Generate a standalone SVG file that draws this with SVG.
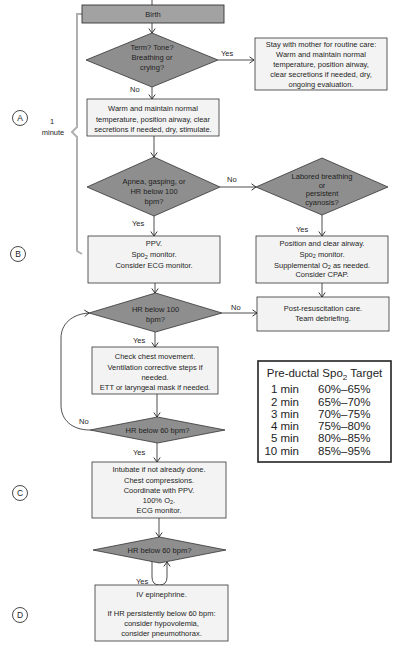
<svg xmlns="http://www.w3.org/2000/svg" width="414" height="665" viewBox="0 0 414 665">
<defs>
<marker id="arr" markerUnits="userSpaceOnUse" markerWidth="8" markerHeight="8" refX="6" refY="4" orient="auto">
<path d="M1.5,0.8 L6,4 L1.5,7.2" fill="none" stroke="#222" stroke-width="0.9"/>
</marker>
</defs>
<style>
text{font-family:"Liberation Sans",Arial,sans-serif;fill:#1e1e1e}
.t{font-size:7.5px;text-anchor:middle}
.l{font-size:7.5px}
.box{fill:#f3f3f3;stroke:#333;stroke-width:0.8}
.dia{fill:#8e8e8e;stroke:#333;stroke-width:0.8}
.birth{fill:#a2a2a2;stroke:#333;stroke-width:0.9}
.c{stroke:#222;stroke-width:0.8;fill:none}
.ca{stroke:#222;stroke-width:0.8;fill:none;marker-end:url(#arr)}
.br{stroke:#b0b0b0;stroke-width:2;fill:none}
.circ{fill:none;stroke:#333;stroke-width:0.9}
.big{font-size:11.5px}
</style>
<rect width="414" height="665" fill="#ffffff"/>
<g opacity="0.995">

<g id="bracket">
<path class="br" d="M82,14 L77,14 L77,127 L72,132 L77,137 L77,251 L82,254"/>
<text class="t" x="52" y="124">1</text>
<text class="t" x="53" y="135">minute</text>
</g>

<g id="labels">
<circle class="circ" cx="20" cy="118" r="7.5"/><text class="t" x="20" y="121" style="font-size:8.5px">A</text>
<circle class="circ" cx="18" cy="254" r="7.5"/><text class="t" x="18" y="257" style="font-size:8.5px">B</text>
<circle class="circ" cx="20" cy="493" r="7.5"/><text class="t" x="20" y="496" style="font-size:8.5px">C</text>
<circle class="circ" cx="20" cy="615" r="7.5"/><text class="t" x="20" y="618" style="font-size:8.5px">D</text>
</g>

<g id="connectors">
<line class="c" x1="152" y1="0" x2="152" y2="5"/>
<line class="ca" x1="152" y1="23" x2="152" y2="33"/>
<line class="ca" x1="218" y1="60" x2="254" y2="60"/>
<line class="ca" x1="152" y1="87" x2="152" y2="99"/>
<line class="ca" x1="154" y1="136" x2="154" y2="157"/>
<line class="ca" x1="220" y1="187" x2="256" y2="187"/>
<line class="ca" x1="154" y1="216" x2="154" y2="236"/>
<line class="ca" x1="322" y1="215" x2="322" y2="236"/>
<line class="ca" x1="155" y1="283" x2="155" y2="293"/>
<line class="ca" x1="322" y1="283" x2="322" y2="297"/>
<line class="ca" x1="222" y1="313" x2="257" y2="313"/>
<line class="ca" x1="155" y1="332" x2="155" y2="347"/>
<line class="ca" x1="157" y1="394" x2="157" y2="417"/>
<path class="ca" d="M90,430 C72,430 61,420 61,405 L61,338 C61,324 72,314 89,313"/>
<line class="ca" x1="157" y1="443" x2="157" y2="462"/>
<line class="ca" x1="159" y1="518" x2="159" y2="537"/>
<path class="ca" d="M152,561 L152,577 Q152,585 159.5,585 Q167,585 167,577 L167,562"/>
<text class="l" x="221" y="56">Yes</text>
<text class="l" x="130" y="92">No</text>
<text class="l" x="227" y="182">No</text>
<text class="l" x="132" y="226">Yes</text>
<text class="l" x="296" y="232">Yes</text>
<text class="l" x="231" y="310">No</text>
<text class="l" x="133" y="343">Yes</text>
<text class="l" x="79" y="424">No</text>
<text class="l" x="133" y="455">Yes</text>
<text class="l" x="136" y="584">Yes</text>
</g>

<g id="birth">
<rect class="birth" x="82" y="5" width="142" height="18"/>
<text class="t" x="153" y="16.5">Birth</text>
</g>

<g id="d1">
<polygon class="dia" points="152,33 218,60 152,87 86,60"/>
<text class="t" x="152" y="50">Term? Tone?</text>
<text class="t" x="152" y="60">Breathing or</text>
<text class="t" x="152" y="70">crying?</text>
</g>

<g id="routine">
<rect class="box" x="255" y="38" width="132" height="52"/>
<text class="t" x="321" y="47">Stay with mother for routine care:</text>
<text class="t" x="321" y="57">Warm and maintain normal</text>
<text class="t" x="321" y="67">temperature, position airway,</text>
<text class="t" x="321" y="77">clear secretions if needed, dry,</text>
<text class="t" x="321" y="87">ongoing evaluation.</text>
</g>

<g id="warm">
<rect class="box" x="87" y="99" width="132" height="37"/>
<text class="t" x="153" y="111">Warm and maintain normal</text>
<text class="t" x="153" y="121.5">temperature, position airway, clear</text>
<text class="t" x="153" y="132">secretions if needed, dry, stimulate.</text>
</g>

<g id="d2">
<polygon class="dia" points="154,157 220,187 154,216 87,187"/>
<text class="t" x="154" y="184">Apnea, gasping, or</text>
<text class="t" x="154" y="194">HR below 100</text>
<text class="t" x="154" y="204">bpm?</text>
</g>

<g id="d3">
<polygon class="dia" points="322,158 388,187 322,215 256,187"/>
<text class="t" x="322" y="179">Labored breathing</text>
<text class="t" x="322" y="187.5">or</text>
<text class="t" x="322" y="196">persistent</text>
<text class="t" x="322" y="205">cyanosis?</text>
</g>

<g id="ppv">
<rect class="box" x="88" y="236" width="132" height="47"/>
<text class="t" x="154" y="246">PPV.</text>
<text class="t" x="154" y="257">Spo<tspan dy="1.8" style="font-size:5.5px">2</tspan><tspan dy="-1.8"> monitor.</tspan></text>
<text class="t" x="154" y="268">Consider ECG monitor.</text>
</g>

<g id="position">
<rect class="box" x="256" y="236" width="132" height="47"/>
<text class="t" x="322" y="246">Position and clear airway.</text>
<text class="t" x="322" y="256.5">Spo<tspan dy="1.8" style="font-size:5.5px">2</tspan><tspan dy="-1.8"> monitor.</tspan></text>
<text class="t" x="322" y="267.5">Supplemental O<tspan dy="1.8" style="font-size:5.5px">2</tspan><tspan dy="-1.8"> as needed.</tspan></text>
<text class="t" x="322" y="277">Consider CPAP.</text>
</g>

<g id="d4">
<polygon class="dia" points="155.5,293 222,313 155.5,332 89,313"/>
<text class="t" x="155.5" y="312">HR below 100</text>
<text class="t" x="155.5" y="321.5">bpm?</text>
</g>

<g id="post">
<rect class="box" x="257" y="297" width="132" height="34"/>
<text class="t" x="323" y="311">Post-resuscitation care.</text>
<text class="t" x="323" y="321">Team debriefing.</text>
</g>

<g id="check">
<rect class="box" x="92" y="347" width="126" height="47"/>
<text class="t" x="155" y="359">Check chest movement.</text>
<text class="t" x="155" y="369.5">Ventilation corrective steps if</text>
<text class="t" x="155" y="379.5">needed.</text>
<text class="t" x="155" y="390">ETT or laryngeal mask if needed.</text>
</g>

<g id="target">
<rect x="258" y="361" width="133" height="101" fill="#ffffff" stroke="#222" stroke-width="1.6"/>
<text class="big" x="324.5" y="377" text-anchor="middle">Pre-ductal Spo<tspan dy="2.5" style="font-size:8px">2</tspan><tspan dy="-2.5"> Target</tspan></text>
<text class="big" x="299" y="393" text-anchor="end">1 min</text><text class="big" x="318" y="393">60%–65%</text>
<text class="big" x="299" y="405.5" text-anchor="end">2 min</text><text class="big" x="318" y="405.5">65%–70%</text>
<text class="big" x="299" y="417.5" text-anchor="end">3 min</text><text class="big" x="318" y="417.5">70%–75%</text>
<text class="big" x="299" y="430" text-anchor="end">4 min</text><text class="big" x="318" y="430">75%–80%</text>
<text class="big" x="299" y="442" text-anchor="end">5 min</text><text class="big" x="318" y="442">80%–85%</text>
<text class="big" x="299" y="454.5" text-anchor="end">10 min</text><text class="big" x="318" y="454.5">85%–95%</text>
</g>

<g id="d5">
<polygon class="dia" points="157.5,417 225,430 157.5,443 90,430"/>
<text class="t" x="157.5" y="433">HR below 60 bpm?</text>
</g>

<g id="intubate">
<rect class="box" x="92" y="462" width="134" height="56"/>
<text class="t" x="159" y="472">Intubate if not already done.</text>
<text class="t" x="159" y="482.5">Chest compressions.</text>
<text class="t" x="159" y="492.5">Coordinate with PPV.</text>
<text class="t" x="159" y="502.5">100% O<tspan dy="1.8" style="font-size:5.5px">2</tspan><tspan dy="-1.8">.</tspan></text>
<text class="t" x="159" y="513">ECG monitor.</text>
</g>

<g id="d6">
<polygon class="dia" points="159.5,537 226,550 159.5,563 93,550"/>
<text class="t" x="159.5" y="553">HR below 60 bpm?</text>
</g>

<g id="iv">
<rect class="box" x="95" y="585" width="133" height="56"/>
<text class="t" x="161.5" y="597">IV epinephrine.</text>
<text class="t" x="161.5" y="616">If HR persistently below 60 bpm:</text>
<text class="t" x="161.5" y="626">consider hypovolemia,</text>
<text class="t" x="161.5" y="636">consider pneumothorax.</text>
</g>
</g>
</svg>
